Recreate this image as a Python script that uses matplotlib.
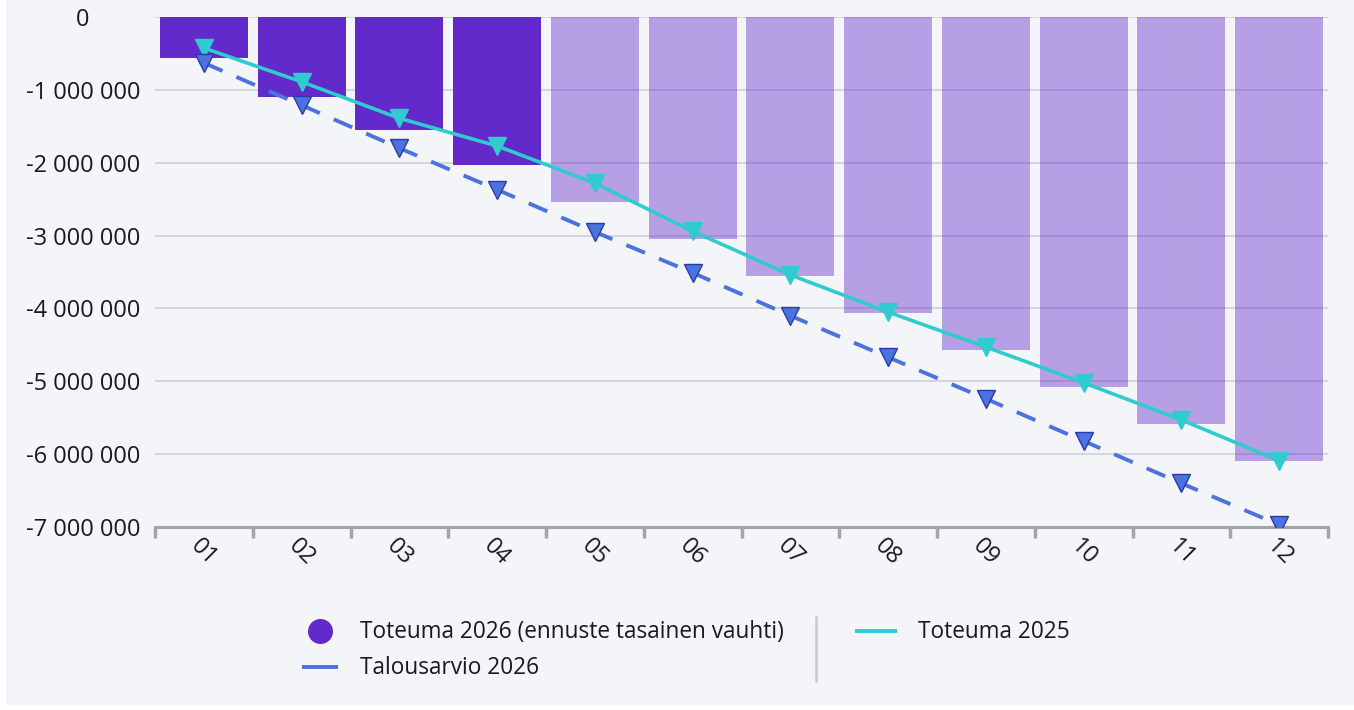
import matplotlib
matplotlib.use("Agg")
import matplotlib.pyplot as plt
from matplotlib.lines import Line2D
from matplotlib.patches import Rectangle
import numpy as np

plt.rcParams['font.family'] = ['Open Sans', 'DejaVu Sans']

months = ["01", "02", "03", "04", "05", "06", "07", "08", "09", "10", "11", "12"]
toteuma_2026 = [-560000, -1100000, -1550000, -2030000, -2540000, -3050000,
                -3560000, -4060000, -4570000, -5080000, -5590000, -6100000]
n_actual = 4  # months 01-04 are actuals, rest are forecast
talousarvio_2026 = [-630000, -1210000, -1800000, -2370000, -2950000, -3510000,
                    -4100000, -4670000, -5240000, -5820000, -6400000, -6970000]
toteuma_2025 = [-425000, -890000, -1390000, -1770000, -2280000, -2940000,
                -3540000, -4050000, -4530000, -5020000, -5530000, -6090000]
y_ticks = [0, -1000000, -2000000, -3000000, -4000000, -5000000, -6000000, -7000000]

legend_labels = ["Toteuma 2026 (ennuste tasainen vauhti)", "Talousarvio 2026", "Toteuma 2025"]

C_BAR = "#6229CB"
C_BLUE = "#4B72E0"
C_BLUE_EDGE = "#2A3AA8"
C_CYAN = "#2FCBCF"
BG = "#F4F5F9"
TXT = "#1A1A1A"

W, H = 1354, 710
fig = plt.figure(figsize=(W / 100, H / 100), dpi=100, facecolor="white")
fig.add_artist(Rectangle((6 / W, 1 - 705 / H), 1 - 6 / W, 705 / H,
                         transform=fig.transFigure, facecolor=BG, edgecolor="none", zorder=0))

ax = fig.add_axes([155 / W, 1 - 527 / H, (1328 - 155) / W, (527 - 17) / H])
ax.set_facecolor("none")

x = np.arange(len(months))
alphas = [1.0 if i < n_actual else 0.42 for i in range(len(months))]
for i in range(len(months)):
    ax.bar(x[i], toteuma_2026[i], width=0.9, color=C_BAR, alpha=alphas[i], zorder=2)

ax.plot(x, talousarvio_2026, color=C_BLUE, lw=2.8, linestyle=(0, (5.2, 3.9)), zorder=3)
ax.plot(x, talousarvio_2026, linestyle="none", marker="v", markersize=12.5,
        markerfacecolor=C_BLUE, markeredgecolor=C_BLUE_EDGE, markeredgewidth=1, zorder=5)
ax.plot(x, toteuma_2025, color=C_CYAN, lw=2.6, marker="v", markersize=12.5,
        markerfacecolor=C_CYAN, markeredgecolor=C_CYAN, zorder=4)

ax.set_xlim(-0.5, len(months) - 0.5)
ax.set_ylim(-7000000, 0)
ax.set_yticks(y_ticks)
ax.set_yticklabels(["0" if v == 0 else "-" + format(-v, ",").replace(",", " ") for v in y_ticks],
                   ha="center", fontsize=17, color=TXT)
ax.tick_params(axis="y", length=0, pad=52)
ax.grid(axis="y", color="#D2D3DA", lw=1.3, zorder=1)
ax.set_axisbelow(True)

ax.set_xticks(x)
ax.set_xticklabels(months, rotation=-45, ha="center", fontsize=17, color=TXT)
ax.tick_params(axis="x", which="major", length=0, pad=5)
ax.set_xticks(np.arange(-0.5, len(months)), minor=True)
ax.tick_params(axis="x", which="minor", length=8, width=2.5, color="#A3A4AA")

for s in ["top", "right", "left"]:
    ax.spines[s].set_visible(False)
ax.spines["bottom"].set_color("#A3A4AA")
ax.spines["bottom"].set_linewidth(2.2)

# legend
def fx(px):
    return px / W

def fy(py):
    return 1 - py / H

fig.add_artist(Line2D([fx(320)], [fy(631)], marker="o", markersize=17, color=C_BAR,
                      linestyle="none", transform=fig.transFigure))
fig.add_artist(Line2D([fx(302), fx(338)], [fy(667), fy(667)], color=C_BLUE, lw=2.8,
                      linestyle="-", solid_capstyle="butt", transform=fig.transFigure))
fig.add_artist(Line2D([fx(816), fx(816)], [fy(617), fy(681)], color="#C8C9CE", lw=1.8,
                      linestyle="-", transform=fig.transFigure))
fig.add_artist(Line2D([fx(855), fx(897)], [fy(631), fy(631)], color=C_CYAN, lw=2.8,
                      linestyle="-", solid_capstyle="butt", transform=fig.transFigure))
fig.text(fx(360), fy(632), legend_labels[0], fontsize=16.3, color=TXT, va="center", ha="left")
fig.text(fx(360), fy(668), legend_labels[1], fontsize=16.3, color=TXT, va="center", ha="left")
fig.text(fx(918), fy(632), legend_labels[2], fontsize=16.3, color=TXT, va="center", ha="left")

fig.savefig("out.png", dpi=100, facecolor="white")
